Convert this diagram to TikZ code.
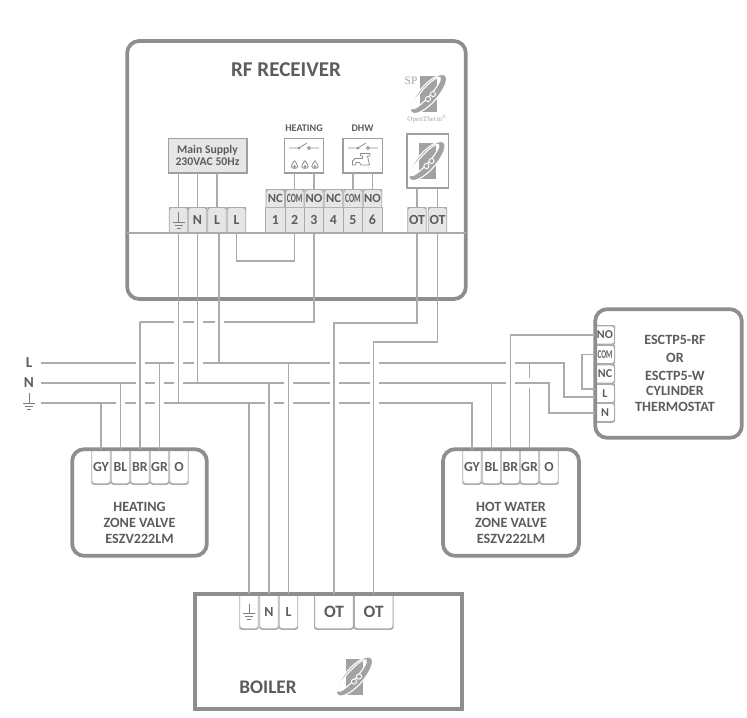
\documentclass[tikz,border=0pt]{standalone}
\usepackage{fontspec}
\setmainfont{Carlito}
\newfontfamily\logofont{Liberation Serif}
\definecolor{casegray}{HTML}{8E8E8E}
\definecolor{wiregray}{HTML}{ABABAB}
\definecolor{pinfill}{HTML}{E6E6E6}
\definecolor{logogray}{HTML}{A2A2A2}
\definecolor{labelgray}{HTML}{5C5C5C}
\tikzset{
  wire/.style={draw=wiregray,line width=1.1pt},
  gapline/.style={draw=white,line width=2.4pt},
  icon/.style={draw=labelgray!70,line width=0.6pt},
  casebox/.style={draw=casegray,line width=2.8pt,rounded corners=9pt,inner sep=0pt,outer sep=0pt},
  square/.style={draw=casegray!85,line width=1pt,inner sep=0pt,outer sep=0pt},
  caption/.style={text=labelgray,align=center,font=\fontsize{10.6}{12}\selectfont\bfseries,inner sep=0pt},
  pinbase/.style={inner sep=0pt,outer sep=0pt,text=labelgray,font=\fontsize{10.4}{10}\selectfont\bfseries,
    minimum width=#1},
  pinbase/.default=14.6pt,
  pinup/.style={pinbase,minimum height=19.5pt,path picture={
    \filldraw[draw=wiregray,fill=pinfill,line width=1.3pt,rounded corners=2.5pt]
      (path picture bounding box.south west) -- (path picture bounding box.north west)
      -- (path picture bounding box.north east) -- (path picture bounding box.south east);}},
  pintop/.style={pinup,minimum height=13.5pt,font=\fontsize{9.4}{10}\selectfont\bfseries},
  pinflat/.style={pinbase,minimum height=19.5pt,fill=pinfill,draw=wiregray,line width=0.6pt},
  pindown/.style={pinbase=#1,minimum height=26.5pt,path picture={
    \draw[draw=wiregray,line width=1.3pt,rounded corners=2.5pt]
      (path picture bounding box.north west) -- (path picture bounding box.south west)
      -- (path picture bounding box.south east) -- (path picture bounding box.north east);}},
  pindown/.default=14.6pt,
  pinright/.style={pinbase=15pt,minimum height=14.4pt,font=\fontsize{9}{10}\selectfont\bfseries,path picture={
    \draw[draw=wiregray,line width=1.3pt,rounded corners=2.5pt]
      (path picture bounding box.north west) -- (path picture bounding box.north east)
      -- (path picture bounding box.south east) -- (path picture bounding box.south west);}},
}
\newcommand{\narrowtxt}[1]{\scalebox{0.6}[1]{#1}}
\begin{document}
\begin{tikzpicture}[x=0.75pt,y=-0.75pt]
\newcommand{\earth}[2]{
  \draw[draw=labelgray!80,line width=0.7pt] (#1,#2) -- (#1,#2+10);
  \draw[draw=labelgray!80,line width=0.7pt] (#1-6,#2+10) -- (#1+6,#2+10) (#1-4,#2+13) -- (#1+4,#2+13) (#1-2,#2+16) -- (#1+2,#2+16);
}
\newcommand{\otlogo}[2]{
  \begin{scope}[shift={(#1,#2)}]
    \fill[logogray] (-8.5,-18) rectangle (8.5,18);
    \draw[white,line width=0.8pt,fill=logogray,even odd rule,rotate=48]
      (0,0) ellipse [x radius=25,y radius=9]
      (-1,-2.5) ellipse [x radius=21,y radius=4.5];
    \draw[white,line width=0.7pt,fill=logogray] (4.5,0) circle (2.6) (-0.5,5) circle (2.6);
  \end{scope}
}
\newcommand{\switch}[2]{
  \draw[icon] (#1-10,#2) -- (#1,#2) -- (#1+8,#2-5);
  \fill[labelgray!70] (#1,#2) circle (1.5);
  \draw[icon] (#1+10,#2) circle (1.5) (#1+11.5,#2) -- (#1+20,#2);
}
\newcommand{\flame}[2]{
  \draw[icon,fill=white] (#1,#2-4.5) .. controls (#1+1,#2-2) and (#1+3.2,#2-1) .. (#1+3.2,#2+1.5)
    .. controls (#1+3.2,#2+4) and (#1-3.2,#2+4) .. (#1-3.2,#2+1.5)
    .. controls (#1-3.2,#2-1) and (#1-1,#2-2) .. (#1,#2-4.5);
  \fill[labelgray!70] (#1,#2+1.7) circle (1.5);
}
\useasboundingbox (0,0) rectangle (747,718);

% receiver
\foreach \name/\x/\txt in {recE/178.5/,recN/197.5/N,recL/217/L,recLL/236.5/L}
  \node[pinup] (\name) at (\x,220) {\txt};
\foreach \name/\x/\txt in {pin1/275.3/1,pin2/294.7/2,pin3/314/3,pin4/333.5/4,pin5/353/5,pin6/372.5/6}
  \node[pinflat] (\name) at (\x,220) {\txt};
\node[pintop] (top1) at (275.3,198) {NC};
\node[pintop] (top2) at (294.7,198) {\narrowtxt{COM}};
\node[pintop] (top3) at (314,198) {NO};
\node[pintop] (top4) at (333.5,198) {NC};
\node[pintop] (top5) at (353,198) {\narrowtxt{COM}};
\node[pintop] (top6) at (372.5,198) {NO};
\node[pinup] (recOTa) at (417,220) {OT};
\node[pinup] (recOTb) at (437.5,220) {OT};
\earth{178.5}{212}
\node[casebox,minimum width=254pt,minimum height=193.5pt] (receiver) at (296.5,170) {};
\draw[wire] (receiver.west |- recL.south) -- (receiver.east |- recL.south);
\node[caption,font=\fontsize{15.8}{16}\selectfont\bfseries] (rftitle) at (286,70) {RF RECEIVER};
\node[square,fill=pinfill,minimum width=59pt,minimum height=26pt,text=labelgray,align=center,
  font=\fontsize{8.8}{9.6}\selectfont\bfseries] (mains) at (207.5,155.5) {Main Supply\\230VAC 50Hz};
\node[square,minimum width=29.5pt,minimum height=26pt] (heatbox) at (304,155.5) {};
\node[square,minimum width=29.5pt,minimum height=26pt] (dhwbox) at (362.5,155.5) {};
\node[square,minimum width=31pt,minimum height=40.5pt] (otbox) at (427.5,161) {};
\node[caption,font=\fontsize{7.6}{8}\selectfont\bfseries] (heatlabel) at (304,128) {HEATING};
\node[caption,font=\fontsize{7.6}{8}\selectfont\bfseries] (dhwlabel) at (362.5,128) {DHW};
\switch{299}{148}
\switch{358}{148}
\flame{294.5}{165}
\flame{305}{165}
\flame{315}{165}
\draw[icon,line join=round] (352.5,165) -- (352.5,161) -- (355,158.5) -- (362.5,158.5) -- (362.5,156) -- (360.5,156)
  -- (360.5,153.5) -- (370,153.5) -- (370,156) -- (367.5,156) -- (369.5,165) -- (361,165) -- (359.5,162.5) -- (356,162.5) -- (355.5,165) -- cycle;
\otlogo{428.5}{94}
\otlogo{427}{161}
\node[text=logogray,inner sep=0pt,font=\logofont\fontsize{8.5}{9}\selectfont] (splabel) at (411,81) {SP};
\node[text=logogray,inner sep=0pt,font=\logofont\fontsize{5.4}{6}\selectfont] (otlabel) at (427,119) {OpenTherm\textsuperscript{®}};

% short wires inside the receiver
\draw[wire] (recE.north |- mains.south) -- (recE.north);
\draw[wire] (recN.north |- mains.south) -- (recN.north);
\draw[wire] (recL.north |- mains.south) -- (recL.north);
\draw[wire] (top2.north |- heatbox.south) -- (top2.north);
\draw[wire] (top3.north |- heatbox.south) -- (top3.north);
\draw[wire] (top5.north |- dhwbox.south) -- (top5.north);
\draw[wire] (top6.north |- dhwbox.south) -- (top6.north);
\draw[wire] (recOTa.north |- otbox.south) -- (recOTa.north);
\draw[wire] (recOTb.north |- otbox.south) -- (recOTb.north);
\draw[wire] (recLL.south) |- (294.7,261) -- (pin2.south);

% supply labels
\node[caption,font=\fontsize{11.4}{12}\selectfont\bfseries] (lineL) at (29,363) {L};
\node[caption,font=\fontsize{11.4}{12}\selectfont\bfseries] (lineN) at (29,383) {N};
\earth{29}{393}
\coordinate (mainL) at (41,363);
\coordinate (mainN) at (41,383);
\coordinate (mainE) at (41,403);

% heating zone valve
\foreach \name/\x/\txt in {hGY/101/GY,hBL/120.5/BL,hBR/140/BR,hGR/159.5/GR,hO/179/O}
  \node[pindown] (\name) at (\x,466.5) {\txt};
\node[casebox,minimum width=101pt,minimum height=80pt] (heatvalve) at (139.5,502.5) {};
\node[caption] (heattext) at (139.5,523) {HEATING\\ZONE VALVE\\ESZV222LM};

% hot water zone valve
\foreach \name/\x/\txt in {wGY/472/GY,wBL/491.5/BL,wBR/510.5/BR,wGR/529.5/GR,wO/549/O}
  \node[pindown] (\name) at (\x,466.5) {\txt};
\node[casebox,minimum width=102pt,minimum height=80pt] (watervalve) at (511,502.5) {};
\node[caption] (watertext) at (511,523) {HOT WATER\\ZONE VALVE\\ESZV222LM};

% cylinder thermostat
\node[pinright] (thNO) at (605,335) {NO};
\node[pinright] (thCOM) at (605,354.5) {\narrowtxt{COM}};
\node[pinright] (thNC) at (605,374) {NC};
\node[pinright] (thL) at (605,393.5) {L};
\node[pinright] (thN) at (605,412.5) {N};
\node[casebox,minimum width=110pt,minimum height=96.5pt] (thermostat) at (668.5,373.5) {};
\node[caption] (thermtext) at (675,373.5) {ESCTP5-RF\\[1.5pt]OR\\[1.5pt]ESCTP5-W\\[-0.7pt]CYLINDER\\THERMOSTAT};

% boiler
\foreach \name/\x/\txt in {bE/249/,bN/269/N,bL/288.5/L}
  \node[pindown] (\name) at (\x,611.5) {\txt};
\node[pindown=29.7pt,font=\fontsize{13}{14}\selectfont\bfseries] (bOTa) at (334,611.5) {OT};
\node[pindown=29.7pt,font=\fontsize{13}{14}\selectfont\bfseries] (bOTb) at (373.7,611.5) {OT};
\earth{249}{603.5}
\node[casebox,rounded corners=0pt,minimum width=200pt,minimum height=86pt] (boiler) at (328.5,651.5) {};
\node[caption,font=\fontsize{14.4}{15}\selectfont\bfseries] (boilertext) at (268,687) {BOILER};
\otlogo{354.5}{676.5}

% mains lines and the wire from terminal 3
\draw[wire] (mainL) -| (564,397) -- (thL.west |- 564,397);
\draw[wire] (mainN) -| (549,413) -- (thN.west |- 549,413);
\draw[wire] (mainE) -| (wGY.north);
\draw[wire] (pin3.south) |- (hBR.north |- 0,322);
\foreach \x/\y in {178/322,198/322,219/322,
    140/363,178/363,198/363,334/363,374.5/363,510/363,
    140/383,159/383,178/383,288.5/383,334/383,374.5/383,510/383,
    120/403,140/403,159/403,269/403,288.5/403,334/403,374.5/403}
  \draw[gapline] ({\x-4.5},\y) -- ({\x+4.5},\y);

% wires that cross them
\draw[wire] (recE.south) -- (recE.south |- mainE);
\draw[wire] (recN.south) -- (recN.south |- mainN);
\draw[wire] ([xshift=1.5pt]recL.south) -- ([xshift=1.5pt]recL.south |- mainL);
\draw[wire] (hGY.north) -- (hGY.north |- mainE);
\draw[wire] (hBL.north) -- (hBL.north |- mainN);
\draw[wire] (hBR.north) -- (hBR.north |- 0,322);
\draw[wire] (hGR.north) -- (hGR.north |- mainL);
\draw[wire] (bE.north) -- (bE.north |- mainE);
\draw[wire] (bN.north) -- (bN.north |- mainN);
\draw[wire] (bL.north) -- (bL.north |- mainL);
\draw[wire] (recOTa.south) -- (recOTa.south |- 0,323) -- (bOTa.north |- 0,323) -- (bOTa.north);
\draw[wire] (recOTb.south) -- (recOTb.south |- 0,342) -- (bOTb.north |- 0,342) -- (bOTb.north);
\draw[wire] (wBL.north) -- (wBL.north |- mainN);
\draw[wire] (wBR.north) |- (thNO.west);
\draw[wire] (wGR.north) -- (wGR.north |- 0,388) (wGR.north |- 0,378) -- (wGR.north |- mainL);
\draw[wire] (thCOM.west) -| (582,389) -- (thL.west |- 582,389);
\end{tikzpicture}
\end{document}
